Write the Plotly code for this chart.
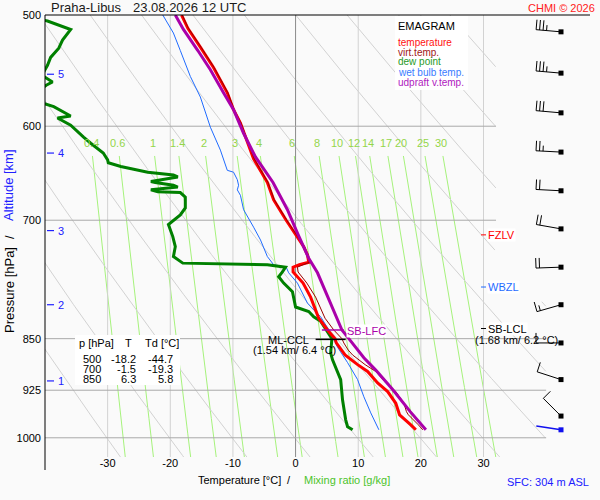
import math
import numpy as np
import plotly.graph_objects as go

# ---------------- data ----------------
station = "Praha-Libus"
run_time = "23.08.2026 12 UTC"
copyright_txt = "CHMI © 2026"
sfc_height_m = 304

p_temp = [500, 511, 527, 545, 568, 584, 597, 633, 658, 677, 700, 717, 731, 741, 750, 753, 756, 762, 768, 776,
          794, 811, 822, 838, 850, 856, 866, 873, 887, 897, 914, 927, 945, 958, 963, 979, 987]
temp = [-18.2, -17.2, -15.2, -13.1, -10.9, -9.9, -8.8, -6.7, -4.5, -3.5, -1.5, 0.0, 1.3, 1.9, 2.1, 0.6, -0.4, -0.4, 0.3, 1.2,
        2.4, 3.2, 3.7, 5.1, 6.3, 6.5, 7.3, 7.9, 9.9, 11.5, 13.1, 14.7, 16.0, 16.4, 16.6, 18.4, 19.2]
virt_temp = [-18.1, -17.1, -15.1, -13.0, -10.8, -9.8, -8.7, -6.6, -4.4, -3.4, -1.4, 0.1, 1.4, 2.0, 2.2, 1.2, 0.3, 0.4, 1.0, 1.8,
             3.2, 4.1, 4.7, 6.1, 7.4, 7.7, 8.4, 9.1, 11.1, 12.8, 14.4, 16.0, 17.3, 17.7, 18.0, 19.6, 20.3]

p_dew = [500, 505, 512, 521, 528, 536, 543, 552, 558, 561, 570, 578, 581, 590, 592, 599, 611, 617, 627, 634,
         637, 641, 647, 650, 652, 657, 658, 661, 663, 666, 668, 669, 674, 686, 694, 705, 719, 731, 743, 751,
         753, 756, 762, 768, 776, 787, 807, 813, 820, 826, 850, 870, 880, 909, 940, 971, 982, 987]
dew = [-44.7, -39.6, -35.9, -37.2, -37.8, -39.1, -39.6, -40.5, -38.8, -39.8, -42.0, -40.2, -38.6, -35.9, -38.0, -35.9, -33.8, -32.7, -30.7, -30.0,
       -29.9, -27.9, -23.6, -19.5, -18.8, -23.1, -22.4, -19.5, -18.8, -23.1, -22.0, -18.4, -17.6, -17.6, -18.4, -20.3, -19.6, -19.2, -19.5, -18.0,
       -4.5, -1.6, -2.1, -2.7, -1.9, -0.5, 0.0, 2.1, 2.9, 4.0, 5.8, 5.6, 5.9, 7.2, 7.5, 8.0, 8.3, 9.1]

p_wet = [500, 515, 530, 553, 572, 601, 624, 645, 647, 655, 661, 666, 672, 688, 708, 723, 743, 753, 756, 763,
         776, 802, 820, 842, 862, 884, 909, 935, 960, 987]
wet = [-21.2, -19.5, -18.4, -16.8, -15.2, -13.6, -12.0, -10.9, -9.9, -9.3, -9.1, -9.3, -8.8, -8.3, -6.7, -5.6, -4.5, -3.5, -1.5, -1.1,
       0.3, 1.9, 4.0, 5.6, 6.7, 8.3, 9.9, 10.9, 12.0, 13.3]

p_parcel = [500, 512, 530, 547, 568, 584, 607, 631, 658, 688, 715, 745, 763, 776, 795, 807, 838, 850, 877, 895, 924, 958, 987]
parcel = [-19.2, -17.9, -15.6, -13.6, -11.5, -9.9, -8.3, -6.4, -3.6, -1.3, 0.3, 2.1, 3.5, 4.2, 5.3, 5.9, 7.4, 8.5, 10.9, 12.8, 15.5, 18.3, 20.8]

wind_p = [514, 550, 587, 626, 667, 710, 756, 804, 856, 909, 965, 987]
wind_dir = [275, 275, 275, 273, 273, 280, 268, 254, 270, 288, 315, 279]
wind_kt = [35, 35, 30, 25, 20, 20, 20, 15, 10, 10, 10, 3]

alt_km = [1, 2, 3, 4, 5]
alt_p = [911, 804, 712, 627, 551]

table_p = [500, 700, 850]
table_T = [-18.2, -1.5, 6.3]
table_Td = [-44.7, -19.3, 5.8]

mix_ratios = [0.4, 0.6, 1, 1.4, 2, 3, 4, 6, 8, 10, 12, 14, 17, 20, 25, 30]
mix_label_p = 617
mix_top_p = 630
isobars = [600, 700, 850, 925, 1000]
isobar_right = [32, 32, 40, 40, 40]
isotherms = [-30, -20, -10, 10, 20, 30]
theta_list = list(range(243, 434, 10))
pressure_ticks = [500, 600, 700, 850, 925, 1000]
temp_ticks = [-30, -20, -10, 0, 10, 20, 30]

fzlv_p = 717
wbzl_p = 781
sb_lcl_p = 836
sb_lcl_txt = "(1.68 km/ 6.2 °C)"
sb_lfc_p = 838
sb_lfc_T = [4.2, 7.7]
ml_ccl_p = 851
ml_ccl_T = [3.2, 8.0]
ml_ccl_txt = "(1.54 km/ 6.4 °C)"

legend_items = [("temperature", "#ff1010"), ("virt.temp.", "#a01818"), ("dew point", "#1f9a1f"),
                ("wet bulb temp.", "#3a7bff"), ("udpraft v.temp.", "#b020c0")]

# ---------------- geometry ----------------
W, H = 600, 500
PL, PR, PT, PB = 45, 590, 15, 457
T_MIN, T_MAX = -40.0, 47.0
P_TOP, P_BOT = 500.0, 1032.0
PPD = (PB - PT) / math.log10(P_BOT / P_TOP)   # px per decade of pressure

FONT = "Liberation Sans, Arial, sans-serif"
C_RED = "#ff0000"
C_VT = "#990000"
C_GREEN = "#008000"
C_WB = "#1f6bff"
C_PURPLE = "#aa00aa"
C_BLUE = "#2020ff"
C_MIX = "#a6f27c"
C_MIXLAB = "#94d64a"


def xp(px):
    return (px - PL) / (PR - PL)


def yp(py):
    return (PB - py) / (PB - PT)


def p_off(p0, dy):
    return p0 * 10 ** (dy / PPD)


fig = go.Figure()


def line(x, y, color, width=1.0, xaxis="x"):
    fig.add_trace(go.Scatter(x=list(x), y=list(y), mode="lines", xaxis=xaxis, yaxis="y",
                             line=dict(color=color, width=width), hoverinfo="skip",
                             showlegend=False, connectgaps=False))


ann = []


def A(text, x, y, xref="paper", yref="paper", size=11, color="black", xanchor="left",
      yanchor="middle", bg=None, angle=0):
    d = dict(text=text, x=x, y=y, xref=xref, yref=yref, showarrow=False,
             font=dict(size=size, color=color, family=FONT), xanchor=xanchor,
             yanchor=yanchor, textangle=angle, borderpad=0)
    if bg:
        d["bgcolor"] = bg
    ann.append(d)


# ---------------- background lines ----------------
def td_from_w(w, p):
    e = w * p / (622.0 + w)
    a = np.log(e / 6.112)
    return 243.5 * a / (17.67 - a)


for w in mix_ratios:
    pp = np.geomspace(mix_top_p, P_BOT, 40)
    line(td_from_w(w, pp), pp, C_MIX, 1)
    A(f"{w:g}", float(td_from_w(w, mix_label_p)), math.log10(mix_label_p), xref="x", yref="y",
      size=11, color=C_MIXLAB, xanchor="center")

for th in theta_list:
    pp = np.geomspace(P_TOP, P_BOT, 300)
    tt = th * (pp / 1000.0) ** 0.2857 - 273.15
    xs, ys = [], []
    for p_, t_ in zip(pp, tt):
        lim = 32 if p_ < 800 else 40
        if t_ <= lim:
            xs.append(float(t_)); ys.append(float(p_))
        else:
            xs.append(None); ys.append(None)
    line(xs, ys, "#d2d2d2", 1)

for t in isotherms:
    line([t, t], [P_TOP, P_BOT], "#d2d2d2", 1)
line([0, 0], [P_TOP, P_BOT], "#8a8a8a", 1)

for p_, r_ in zip(isobars, isobar_right):
    line([T_MIN, r_], [p_, p_], "#a9a9a9", 1)

# ---------------- profiles ----------------
line(wet, p_wet, C_WB, 1)
line(dew, p_dew, C_GREEN, 3)
line(temp, p_temp, C_RED, 3)
line(virt_temp, p_temp, C_VT, 1)
line(parcel, p_parcel, C_PURPLE, 3)

# level markers
line(sb_lfc_T, [sb_lfc_p, sb_lfc_p], C_PURPLE, 1.5)
line(ml_ccl_T, [ml_ccl_p, ml_ccl_p], "black", 1.5)

# ---------------- wind barbs (x2 = pixel axis) ----------------
bx_k, by_k, bx_b, by_b = [], [], [], []
dots_k_x, dots_k_y = [], []
X_DOT = 561
for p0, d, s in zip(wind_p, wind_dir, wind_kt):
    r = math.radians(d)
    sx, sy = math.sin(r), -math.cos(r)
    qx, qy = math.cos(r), math.sin(r)
    ex, ey = X_DOT + 25 * sx, 25 * sy
    segx = [X_DOT, ex, None]
    segy = [p0, p_off(p0, ey), None]
    full = s // 10
    half = (s % 10) >= 5
    k = 0
    for i in range(full):
        ax, ay = ex - k * 3.5 * sx, ey - k * 3.5 * sy
        segx += [ax, ax + 10 * qx, None]
        segy += [p_off(p0, ay), p_off(p0, ay + 10 * qy), None]
        k += 1
    if half:
        ax, ay = ex - k * 3.5 * sx, ey - k * 3.5 * sy
        segx += [ax, ax + 5.5 * qx, None]
        segy += [p_off(p0, ay), p_off(p0, ay + 5.5 * qy), None]
    if s < 5:
        bx_b += segx; by_b += segy
    else:
        bx_k += segx; by_k += segy
        dots_k_x.append(X_DOT); dots_k_y.append(p0)

line(bx_k, by_k, "black", 1, xaxis="x2")
line(bx_b, by_b, "#1010ee", 1.5, xaxis="x2")
fig.add_trace(go.Scatter(x=dots_k_x, y=dots_k_y, mode="markers", xaxis="x2", yaxis="y",
                         marker=dict(symbol="square", size=5, color="black"),
                         hoverinfo="skip", showlegend=False))
fig.add_trace(go.Scatter(x=[X_DOT], y=[wind_p[-1]], mode="markers", xaxis="x2", yaxis="y",
                         marker=dict(symbol="square", size=5, color="#1010ee"),
                         hoverinfo="skip", showlegend=False))

# altitude marks
for km, p_ in zip(alt_km, alt_p):
    line([47, 54], [p_, p_], C_BLUE, 1.2, xaxis="x2")
    A(str(km), 57, math.log10(p_), xref="x2", yref="y", size=11, color=C_BLUE)

# level labels on the right
line([481, 486], [fzlv_p, fzlv_p], C_RED, 1, xaxis="x2")
A("FZLV", 487, math.log10(fzlv_p), xref="x2", yref="y", color=C_RED, bg="white")
line([481, 486], [wbzl_p, wbzl_p], C_WB, 1, xaxis="x2")
A("WBZL", 487, math.log10(wbzl_p), xref="x2", yref="y", color=C_WB, bg="white")
line([481, 486], [sb_lcl_p, sb_lcl_p], "black", 1, xaxis="x2")
A("SB-LCL", 487, math.log10(sb_lcl_p), xref="x2", yref="y", color="black", bg="white")
A(sb_lcl_txt, 516, math.log10(p_off(sb_lcl_p, 11)), xref="x2", yref="y", xanchor="center")
A("SB-LFC", sb_lfc_T[1] + 0.3, math.log10(p_off(sb_lfc_p, 1)), xref="x", yref="y",
  color=C_PURPLE, bg="white")
A("ML-CCL", 288.5, math.log10(p_off(ml_ccl_p, 1)), xref="x2", yref="y", xanchor="center")
A(ml_ccl_txt, 294, math.log10(p_off(ml_ccl_p, 11)), xref="x2", yref="y", xanchor="center")

# ---------------- text outside ----------------
A(station, xp(50), yp(7.5), size=13, color="#1a1a1a")
A(run_time, xp(132), yp(7.5), size=13, color="#1a1a1a")
A(copyright_txt, xp(596), yp(7.5), size=11, color="#ff2020", xanchor="right")
A(f"SFC: {sfc_height_m} m ASL", xp(590), yp(482), size=11, color=C_BLUE, xanchor="right")

A("Temperature [°C]", xp(197), yp(480), size=11)
A("/", xp(289), yp(480), size=11, xanchor="center")
A("Mixing ratio [g/kg]", xp(303), yp(480), size=11, color="#4cc42c")

A("Pressure [hPa]", xp(9), yp(290), size=13, angle=-90, xanchor="center")
A("/", xp(9), yp(237), size=13, angle=-90, xanchor="center")
A("Altitude [km]", xp(9), yp(185), size=13, angle=-90, xanchor="center", color=C_BLUE)

# legend
A("EMAGRAM", xp(397), yp(26), size=11)
for i, (txt, col) in enumerate(legend_items):
    A(txt, xp(397), yp(42 + 10 * i), size=10, color=col)

# table
A("p [hPa]", xp(78), yp(343), size=11)
A("T", xp(128), yp(343), size=11, xanchor="center")
A("Td [°C]", xp(144), yp(343), size=11)
for i, (pp_, tt_, dd_) in enumerate(zip(table_p, table_T, table_Td)):
    yy = yp(358.5 + 10 * i)
    A(str(pp_), xp(102), yy, size=11, xanchor="right")
    A(f"{tt_:.1f}", xp(137), yy, size=11, xanchor="right")
    A(f"{dd_:.1f}", xp(174), yy, size=11, xanchor="right")

shapes = [
    dict(type="rect", xref="paper", yref="paper", x0=xp(395), x1=xp(468), y0=yp(90), y1=yp(16),
         fillcolor="white", line=dict(width=0), layer="above"),
    dict(type="rect", xref="paper", yref="paper", x0=xp(75), x1=xp(180), y0=yp(385), y1=yp(335),
         fillcolor="white", line=dict(width=0), layer="above"),
    dict(type="line", xref="paper", yref="paper", x0=0, x1=1, y0=1, y1=1,
         line=dict(color="black", width=1)),
    dict(type="line", xref="paper", yref="paper", x0=0, x1=0, y0=yp(470), y1=1,
         line=dict(color="black", width=1)),
]

fig.update_layout(
    width=W, height=H,
    margin=dict(l=PL, r=W - PR, t=PT, b=H - PB),
    paper_bgcolor="#fafafa", plot_bgcolor="#fafafa",
    font=dict(family=FONT, size=11, color="black"),
    showlegend=False,
    xaxis=dict(range=[T_MIN, T_MAX], tickvals=temp_ticks, ticktext=[str(t) for t in temp_ticks],
               showgrid=False, zeroline=False, showline=False, ticks="",
               tickfont=dict(size=11, color="black"), anchor="free", position=0.005),
    xaxis2=dict(range=[PL, PR], overlaying="x", anchor="y", visible=False),
    yaxis=dict(type="log", range=[math.log10(P_BOT), math.log10(P_TOP)],
               tickvals=pressure_ticks, ticktext=[str(p) for p in pressure_ticks],
               showgrid=False, zeroline=False, showline=False, ticks="",
               ticklabelstandoff=3,
               tickfont=dict(size=11, color="black")),
    annotations=ann,
    shapes=shapes,
)

fig.write_html("out.html", config={"displayModeBar": False},
               post_script="document.body.style.margin='0px';document.body.style.overflow='hidden';")
